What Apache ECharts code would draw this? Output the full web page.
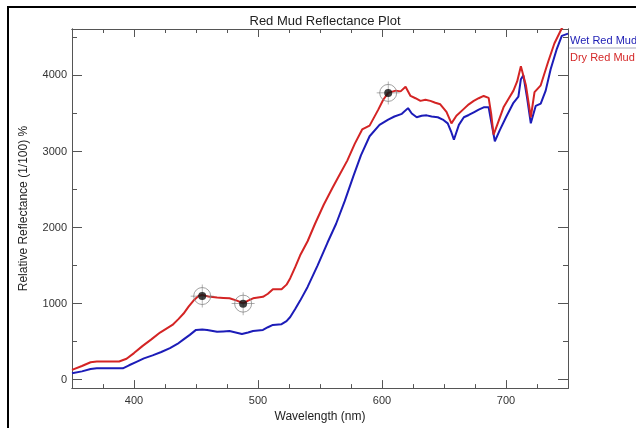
<!DOCTYPE html>
<html>
<head>
<meta charset="utf-8">
<title>Red Mud Reflectance Plot</title>
<script src="https://cdn.jsdelivr.net/npm/echarts@6/dist/echarts.min.js"></script>
<style>
  html, body { margin: 0; padding: 0; background: #fff; }
  #chart { width: 636px; height: 428px; }
</style>
</head>
<body>
<div id="chart"></div>
<script>
// 数据：波长 (nm) 与相对反射率 (1/100 %)
const dryWavelength = [350, 358, 365, 370, 380, 388, 394, 400, 407, 414, 421, 431, 436, 440, 444, 448, 452, 455, 460, 467, 472, 477, 483, 488, 492, 496, 504, 508, 512, 519, 523, 526, 530, 534, 540, 546, 553, 560, 566, 572, 578, 584, 590, 597, 601, 605, 611, 615, 619, 623, 627, 631, 635, 639, 643, 647, 652, 656, 660, 666, 670, 674, 678, 682, 686, 688, 690, 694, 698, 701, 706, 709, 712, 716, 720, 723, 728, 734, 739, 745, 750]
const dryReflectance = [130, 180, 230, 240, 240, 240, 275, 350, 445, 530, 620, 720, 800, 870, 960, 1040, 1100, 1115, 1095, 1080, 1075, 1070, 1040, 1005, 1040, 1070, 1090, 1130, 1190, 1190, 1250, 1335, 1480, 1635, 1820, 2050, 2300, 2520, 2700, 2880, 3100, 3290, 3340, 3550, 3680, 3770, 3800, 3790, 3850, 3730, 3700, 3665, 3680, 3665, 3640, 3620, 3520, 3370, 3470, 3560, 3620, 3665, 3700, 3730, 3705, 3500, 3220, 3400, 3580, 3665, 3800, 3920, 4120, 3875, 3450, 3780, 3870, 4180, 4420, 4620, 4700]

const wetWavelength = [350, 358, 365, 370, 380, 391, 396, 402, 408, 415, 422, 429, 435, 440, 445, 450, 455, 459, 467, 472, 477, 482, 487, 492, 496, 504, 508, 512, 519, 523, 526, 530, 534, 540, 548, 556, 563, 570, 577, 583, 590, 598, 605, 610, 616, 621, 624, 628, 632, 636, 640, 645, 649, 653, 656, 658, 662, 666, 670, 674, 678, 682, 686, 688, 691, 695, 700, 706, 710, 712, 714, 717, 720, 724, 728, 732, 736, 741, 745, 750]
const wetReflectance = [85, 110, 140, 150, 150, 150, 190, 235, 280, 320, 365, 415, 470, 530, 590, 655, 660, 655, 630, 635, 640, 620, 600, 620, 640, 655, 690, 720, 730, 770, 825, 930, 1040, 1220, 1500, 1800, 2050, 2350, 2680, 2950, 3200, 3350, 3420, 3460, 3495, 3570, 3500, 3450, 3470, 3475, 3460, 3450, 3420, 3370, 3250, 3155, 3350, 3450, 3480, 3515, 3550, 3580, 3580, 3400, 3135, 3280, 3450, 3640, 3720, 3950, 4000, 3705, 3370, 3600, 3630, 3800, 4080, 4350, 4520, 4550]

// 标记点（十字准星）
const markerWavelength = [455, 488, 605]
const markerReflectance = [1100, 1000, 3770]

// 刻度
const xMajorTicks = [400, 500, 600, 700]
const xMinorTicks = [375, 425, 450, 475, 525, 550, 575, 625, 650, 675, 725]
const yMajorTicks = [0, 1000, 2000, 3000, 4000]
const yMinorTicks = [500, 1500, 2500, 3500, 4500]

const toPairs = (xs, ys) => xs.map((x, i) => [x, ys[i]])
const markerData = toPairs(markerWavelength, markerReflectance)

const font = 'Liberation Sans, Arial, Helvetica, sans-serif'
const axisColor = '#555'
const X_MIN = 350, X_MAX = 750, Y_MIN = -110, Y_MAX = 4610

// 生成一个坐标轴（主刻度/次刻度，底部/顶部等）
function makeAxis(kind, position, ticks, len, withLabels) {
  const isX = kind === 'x'
  return {
    type: 'value',
    position: position,
    min: isX ? X_MIN : Y_MIN,
    max: isX ? X_MAX : Y_MAX,
    splitLine: { show: false },
    axisLine: { show: true, onZero: false, lineStyle: { color: axisColor, width: 1 } },
    axisTick: {
      show: true,
      inside: true,
      length: len,
      customValues: ticks,
      lineStyle: { color: axisColor, width: 1 },
    },
    axisLabel: withLabels
      ? {
          show: true,
          customValues: ticks,
          formatter: (v) => String(v), // 不要千位分隔符
          color: '#333',
          fontSize: 11,
          fontFamily: font,
          margin: isX ? 7 : 5,
        }
      : { show: false },
  }
}

const xAxes = [
  makeAxis('x', 'bottom', xMajorTicks, 8, true),
  makeAxis('x', 'bottom', xMinorTicks, 4, false),
  makeAxis('x', 'top', xMajorTicks, 8, false),
  makeAxis('x', 'top', xMinorTicks, 4, false),
]
xAxes[0].name = 'Wavelength (nm)'
xAxes[0].nameLocation = 'middle'
xAxes[0].nameGap = 19
xAxes[0].nameTextStyle = { color: '#222', fontSize: 12, fontFamily: font }

const yAxes = [
  makeAxis('y', 'left', yMajorTicks, 10, true),
  makeAxis('y', 'left', yMinorTicks, 5, false),
  makeAxis('y', 'right', yMajorTicks, 10, false),
  makeAxis('y', 'right', yMinorTicks, 5, false),
]
yAxes[0].name = 'Relative Reflectance (1/100) %'
yAxes[0].nameLocation = 'middle'
yAxes[0].nameGap = 42
yAxes[0].nameTextStyle = { color: '#222', fontSize: 12, fontFamily: font }

const chart = echarts.init(document.getElementById('chart'), null, { renderer: 'canvas' })

const option = {
  animation: false,
  backgroundColor: '#fff',
  title: {
    text: 'Red Mud Reflectance Plot',
    left: 320,
    textAlign: 'center',
    top: 10,
    textStyle: { color: '#222', fontSize: 13, fontWeight: 'normal', fontFamily: font },
  },
  grid: { left: 72, top: 29, right: 68, bottom: 27, containLabel: false },
  xAxis: xAxes,
  yAxis: yAxes,
  graphic: [
    // 外框（左、上）
    {
      type: 'rect',
      shape: { x: 8, y: 7, width: 700, height: 500 },
      style: { fill: 'none', stroke: '#000', lineWidth: 2 },
      silent: true,
    },
    // 图例文字
    {
      type: 'text',
      left: 570,
      top: 35,
      style: { text: 'Wet Red Mud', fill: '#1c1cb4', font: '11px ' + font },
    },
    {
      type: 'line',
      shape: { x1: 569, y1: 48, x2: 640, y2: 48 },
      style: { stroke: '#aab', lineWidth: 1 },
    },
    {
      type: 'text',
      left: 570,
      top: 52,
      style: { text: 'Dry Red Mud', fill: '#d42828', font: '11px ' + font },
    },
  ],
  series: [
    {
      name: 'Wet Red Mud',
      type: 'line',
      data: toPairs(wetWavelength, wetReflectance),
      showSymbol: false,
      smooth: false,
      lineStyle: { color: '#1c1cb8', width: 2 },
      clip: true,
      z: 2,
    },
    {
      name: 'Dry Red Mud',
      type: 'line',
      data: toPairs(dryWavelength, dryReflectance),
      showSymbol: false,
      smooth: false,
      lineStyle: { color: '#d42424', width: 2 },
      clip: true,
      z: 3,
    },
    // 准星：外圈
    {
      type: 'scatter',
      data: markerData,
      symbol: 'circle',
      symbolSize: 17,
      itemStyle: { color: 'rgba(255,255,255,0)', borderColor: '#888', borderWidth: 1 },
      silent: true,
      z: 4,
    },
    // 准星：十字线
    {
      type: 'scatter',
      data: markerData,
      symbol: 'path://M0,9.7H20V10.3H0Z M9.7,0H10.3V20H9.7Z',
      symbolSize: 23,
      itemStyle: { color: '#777' },
      silent: true,
      z: 5,
    },
    // 准星：中心黑点
    {
      type: 'scatter',
      data: markerData,
      symbol: 'circle',
      symbolSize: 8,
      itemStyle: { color: '#111' },
      silent: true,
      z: 6,
    },
  ],
}

chart.setOption(option)
</script>
</body>
</html>
